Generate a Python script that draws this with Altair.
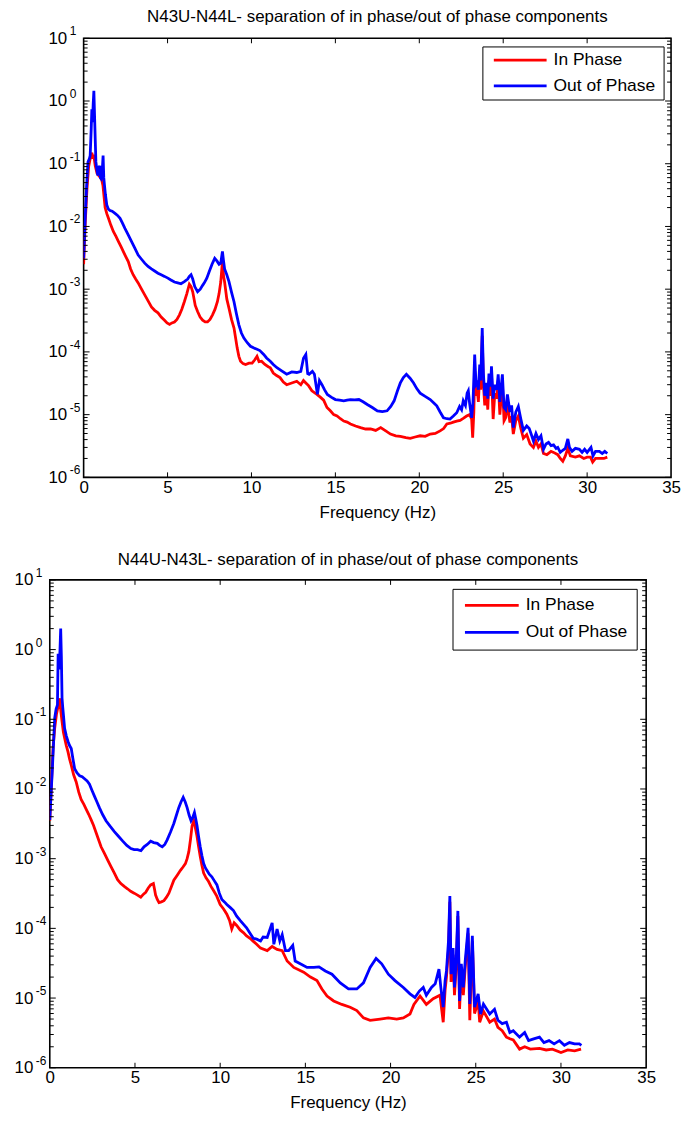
import altair as alt
import pandas as pd

FONT = "Liberation Sans"

series_names = ["In Phase", "Out of Phase"]
series_colors = ["#ff0000", "#0000ff"]
panel_titles = [
    "N43U-N44L- separation of in phase/out of phase components",
    "N44U-N43L- separation of in phase/out of phase components",
]
x_label = "Frequency (Hz)"
x_tick_values = [0, 5, 10, 15, 20, 25, 30, 35]
y_decades = [-6, -5, -4, -3, -2, -1, 0, 1]

# ---------------- top panel (N43U-N44L) ----------------
top_out_freq = [0.00, 0.10, 0.18, 0.26, 0.34, 0.39, 0.45, 0.49, 0.53, 0.57, 0.61, 0.65, 0.69, 0.73, 0.79, 0.85, 0.90, 0.96, 1.00, 1.04, 1.10, 1.16, 1.20, 1.24, 1.30, 1.38, 1.47, 1.57, 1.70, 1.87, 2.02, 2.17, 2.30, 2.46, 2.65, 2.85, 3.05, 3.25, 3.45, 3.64, 3.84, 4.04, 4.23, 4.43, 4.62, 4.82, 5.02, 5.20, 5.41, 5.61, 5.80, 6.00, 6.20, 6.30, 6.40, 6.50, 6.62, 6.79, 6.95, 7.09, 7.19, 7.34, 7.48, 7.65, 7.81, 7.95, 8.07, 8.17, 8.27, 8.33, 8.40, 8.53, 8.66, 8.81, 8.96, 9.10, 9.25, 9.40, 9.55, 9.75, 9.94, 10.15, 10.33, 10.50, 10.73, 10.90, 11.12, 11.30, 11.52, 11.80, 12.10, 12.40, 12.70, 12.94, 13.10, 13.24, 13.35, 13.43, 13.63, 13.75, 13.93, 14.05, 14.20, 14.35, 14.52, 14.75, 15.00, 15.25, 15.50, 15.70, 15.90, 16.15, 16.40, 16.65, 16.90, 17.20, 17.50, 17.80, 18.08, 18.30, 18.50, 18.70, 18.87, 19.05, 19.23, 19.45, 19.66, 19.85, 20.05, 20.35, 20.65, 20.85, 21.04, 21.24, 21.44, 21.65, 21.83, 22.03, 22.23, 22.40, 22.52, 22.62, 22.75, 22.85, 22.92, 23.00, 23.12, 23.20, 23.30, 23.38, 23.45, 23.52, 23.60, 23.66, 23.75, 23.82, 23.90, 24.00, 24.08, 24.15, 24.25, 24.30, 24.40, 24.50, 24.62, 24.70, 24.80, 24.95, 25.05, 25.15, 25.25, 25.40, 25.50, 25.60, 25.75, 25.90, 26.05, 26.20, 26.40, 26.55, 26.70, 26.80, 26.95, 27.10, 27.25, 27.40, 27.55, 27.70, 27.85, 28.00, 28.15, 28.25, 28.40, 28.55, 28.70, 28.85, 28.95, 29.10, 29.30, 29.54, 29.70, 29.85, 30.00, 30.23, 30.35, 30.50, 30.73, 30.90, 31.05, 31.20]
top_out_val = [3.1e-3, 1.5e-2, 4.5e-2, 1.07e-1, 1.2e-1, 1.35e-1, 3.5e-1, 7.4e-1, 4.6e-1, 9.0e-1, 1.45, 6.0e-1, 2.5e-1, 1.07e-1, 8.0e-2, 6.5e-2, 8.5e-2, 9.3e-2, 6.0e-2, 5.8e-2, 7.0e-2, 1.35e-1, 6.0e-2, 4.6e-2, 3.2e-2, 2.2e-2, 1.9e-2, 1.8e-2, 1.75e-2, 1.62e-2, 1.5e-2, 1.35e-2, 1.15e-2, 9.3e-3, 7.4e-3, 5.8e-3, 4.5e-3, 3.5e-3, 3.0e-3, 2.6e-3, 2.3e-3, 2.1e-3, 1.95e-3, 1.8e-3, 1.7e-3, 1.6e-3, 1.5e-3, 1.4e-3, 1.3e-3, 1.26e-3, 1.22e-3, 1.32e-3, 1.45e-3, 1.6e-3, 1.7e-3, 1.45e-3, 1.1e-3, 9.1e-4, 1.0e-3, 1.15e-3, 1.26e-3, 1.5e-3, 1.9e-3, 2.5e-3, 3.1e-3, 2.8e-3, 2.5e-3, 2.6e-3, 4.0e-3, 2.9e-3, 2.1e-3, 1.7e-3, 1.32e-3, 9.0e-4, 6.3e-4, 4.1e-4, 2.7e-4, 2.0e-4, 1.66e-4, 1.4e-4, 1.23e-4, 1.15e-4, 1.1e-4, 1.05e-4, 9.1e-5, 8.0e-5, 7.1e-5, 6.3e-5, 5.6e-5, 5.0e-5, 4.4e-5, 4.8e-5, 4.7e-5, 4.9e-5, 7.9e-5, 9.1e-5, 4.5e-5, 4.4e-5, 4.9e-5, 4.4e-5, 2.1e-5, 3.5e-5, 3.0e-5, 2.5e-5, 2.1e-5, 1.9e-5, 1.74e-5, 1.7e-5, 1.66e-5, 1.7e-5, 1.74e-5, 1.72e-5, 1.74e-5, 1.6e-5, 1.45e-5, 1.3e-5, 1.15e-5, 1.12e-5, 1.15e-5, 1.35e-5, 1.66e-5, 2.4e-5, 3.2e-5, 3.9e-5, 4.4e-5, 3.8e-5, 3.2e-5, 2.6e-5, 2.2e-5, 1.95e-5, 1.74e-5, 1.55e-5, 1.38e-5, 1.1e-5, 8.9e-6, 8.6e-6, 8.5e-6, 9.5e-6, 1.07e-5, 1.35e-5, 1.2e-5, 1.66e-5, 1.4e-5, 2.2e-5, 2.4e-5, 1.5e-5, 8.9e-6, 1.6e-5, 9.1e-5, 3.0e-5, 3.2e-5, 2.5e-5, 6.3e-5, 3.5e-5, 2.4e-4, 4.5e-5, 2.0e-5, 3.2e-5, 1.8e-5, 4.5e-5, 2.8e-5, 5.9e-5, 1.8e-5, 3.0e-5, 2.5e-5, 4.4e-5, 1.6e-5, 4.4e-5, 1.3e-5, 1.2e-5, 2.1e-5, 1.1e-5, 1.4e-5, 6.2e-6, 1.1e-5, 1.35e-5, 8.5e-6, 5.6e-6, 6.6e-6, 6.0e-6, 4.6e-6, 3.8e-6, 5.0e-6, 4.0e-6, 4.6e-6, 2.8e-6, 3.4e-6, 3.6e-6, 3.2e-6, 3.3e-6, 2.9e-6, 3.0e-6, 2.5e-6, 2.7e-6, 2.9e-6, 4.1e-6, 3.0e-6, 2.6e-6, 2.9e-6, 2.8e-6, 2.5e-6, 2.8e-6, 2.5e-6, 3.0e-6, 2.2e-6, 2.6e-6, 2.6e-6, 2.4e-6, 2.6e-6, 2.4e-6]

top_in_freq = [0.00, 0.10, 0.20, 0.30, 0.39, 0.49, 0.55, 0.60, 0.69, 0.80, 0.89, 1.00, 1.08, 1.15, 1.28, 1.38, 1.48, 1.62, 1.77, 1.92, 2.07, 2.22, 2.36, 2.51, 2.66, 2.80, 2.95, 3.10, 3.25, 3.45, 3.64, 3.84, 4.04, 4.23, 4.43, 4.62, 4.82, 4.97, 5.12, 5.26, 5.41, 5.56, 5.71, 5.85, 6.00, 6.15, 6.30, 6.40, 6.50, 6.65, 6.79, 6.94, 7.09, 7.24, 7.38, 7.53, 7.68, 7.83, 7.97, 8.07, 8.17, 8.27, 8.34, 8.40, 8.53, 8.66, 8.81, 8.96, 9.05, 9.15, 9.25, 9.35, 9.50, 9.65, 9.85, 10.04, 10.20, 10.33, 10.45, 10.60, 10.80, 11.00, 11.12, 11.30, 11.50, 11.70, 11.90, 12.10, 12.40, 12.70, 12.94, 13.10, 13.24, 13.40, 13.60, 13.90, 14.10, 14.30, 14.50, 14.70, 14.90, 15.10, 15.30, 15.50, 15.70, 15.90, 16.20, 16.50, 16.80, 17.10, 17.40, 17.70, 18.00, 18.28, 18.60, 18.87, 19.20, 19.46, 19.75, 20.05, 20.35, 20.65, 20.95, 21.24, 21.45, 21.64, 21.85, 22.03, 22.23, 22.43, 22.62, 22.82, 23.00, 23.12, 23.18, 23.25, 23.30, 23.38, 23.45, 23.52, 23.60, 23.66, 23.75, 23.82, 23.90, 24.00, 24.08, 24.15, 24.25, 24.30, 24.40, 24.50, 24.62, 24.70, 24.80, 24.95, 25.05, 25.15, 25.25, 25.40, 25.50, 25.60, 25.75, 25.90, 26.05, 26.20, 26.40, 26.60, 26.80, 26.95, 27.10, 27.25, 27.40, 27.60, 27.85, 28.00, 28.25, 28.40, 28.55, 28.70, 28.85, 29.00, 29.30, 29.54, 29.80, 30.00, 30.20, 30.33, 30.50, 30.73, 31.00, 31.20]
top_in_val = [2.5e-3, 1.2e-2, 4.0e-2, 9.0e-2, 1.2e-1, 1.5e-1, 1.2e-1, 1.4e-1, 9.3e-2, 7.0e-2, 6.5e-2, 6.0e-2, 5.5e-2, 4.5e-2, 2.0e-2, 1.6e-2, 1.35e-2, 1.05e-2, 8.3e-3, 7.0e-3, 5.8e-3, 4.8e-3, 4.0e-3, 3.3e-3, 2.75e-3, 2.1e-3, 1.7e-3, 1.45e-3, 1.26e-3, 1.0e-3, 8.1e-4, 6.5e-4, 5.2e-4, 4.6e-4, 4.2e-4, 3.6e-4, 3.2e-4, 2.9e-4, 2.75e-4, 2.9e-4, 3.0e-4, 3.3e-4, 3.9e-4, 4.8e-4, 6.3e-4, 8.5e-4, 1.2e-3, 1.1e-3, 9.1e-4, 5.5e-4, 4.4e-4, 3.6e-4, 3.2e-4, 3.0e-4, 3.0e-4, 3.3e-4, 3.9e-4, 4.8e-4, 6.3e-4, 8.5e-4, 1.3e-3, 2.75e-3, 1.6e-3, 1.3e-3, 7.0e-4, 5.0e-4, 3.3e-4, 2.4e-4, 1.7e-4, 1.15e-4, 8.5e-5, 7.1e-5, 6.5e-5, 6.3e-5, 6.6e-5, 6.6e-5, 7.5e-5, 8.5e-5, 7.0e-5, 7.1e-5, 6.3e-5, 5.8e-5, 5.6e-5, 4.6e-5, 4.2e-5, 3.9e-5, 3.3e-5, 3.0e-5, 3.2e-5, 3.4e-5, 3.0e-5, 3.5e-5, 3.2e-5, 2.9e-5, 2.4e-5, 2.1e-5, 1.9e-5, 1.7e-5, 1.3e-5, 1.15e-5, 1.0e-5, 9.5e-6, 8.6e-6, 7.9e-6, 7.6e-6, 7.1e-6, 6.6e-6, 6.2e-6, 5.9e-6, 5.9e-6, 5.6e-6, 6.2e-6, 5.5e-6, 4.9e-6, 4.6e-6, 4.5e-6, 4.3e-6, 4.2e-6, 4.4e-6, 4.6e-6, 4.5e-6, 4.9e-6, 5.0e-6, 5.5e-6, 6.0e-6, 7.1e-6, 7.3e-6, 7.6e-6, 7.9e-6, 8.1e-6, 8.7e-6, 9.5e-6, 1.0e-5, 8.5e-6, 4.3e-6, 1.1e-5, 5.0e-5, 2.0e-5, 2.5e-5, 1.6e-5, 4.5e-5, 2.5e-5, 1.8e-4, 3.0e-5, 1.4e-5, 2.5e-5, 1.2e-5, 3.5e-5, 2.0e-5, 4.5e-5, 8.5e-6, 2.2e-5, 1.8e-5, 3.5e-5, 1.0e-5, 3.2e-5, 8.0e-6, 9.0e-6, 1.5e-5, 7.5e-6, 9.5e-6, 4.9e-6, 8.0e-6, 9.5e-6, 6.0e-6, 4.2e-6, 4.8e-6, 3.4e-6, 3.0e-6, 3.8e-6, 3.0e-6, 3.4e-6, 2.4e-6, 2.3e-6, 2.6e-6, 2.5e-6, 2.3e-6, 2.0e-6, 1.8e-6, 2.2e-6, 2.9e-6, 2.2e-6, 2.1e-6, 2.2e-6, 2.0e-6, 2.1e-6, 2.1e-6, 1.75e-6, 2.0e-6, 2.0e-6, 2.0e-6, 2.1e-6]

# ---------------- bottom panel (N44U-N43L) ----------------
bot_out_freq = [0.00, 0.07, 0.14, 0.22, 0.29, 0.37, 0.45, 0.49, 0.55, 0.60, 0.64, 0.68, 0.72, 0.76, 0.80, 0.87, 0.97, 1.07, 1.16, 1.26, 1.36, 1.46, 1.60, 1.75, 1.90, 2.04, 2.19, 2.33, 2.48, 2.62, 2.77, 2.91, 3.10, 3.30, 3.55, 3.79, 4.03, 4.27, 4.52, 4.76, 4.95, 5.15, 5.35, 5.53, 5.72, 5.92, 6.10, 6.31, 6.45, 6.60, 6.75, 6.89, 7.08, 7.28, 7.43, 7.57, 7.70, 7.83, 7.95, 8.06, 8.18, 8.29, 8.39, 8.49, 8.56, 8.64, 8.73, 8.83, 8.93, 9.03, 9.12, 9.22, 9.36, 9.51, 9.66, 9.81, 9.95, 10.10, 10.25, 10.39, 10.58, 10.78, 10.97, 11.17, 11.36, 11.55, 11.75, 11.94, 12.14, 12.37, 12.52, 12.76, 13.05, 13.15, 13.34, 13.50, 13.64, 13.83, 14.02, 14.26, 14.40, 14.70, 15.10, 15.50, 15.80, 16.17, 16.56, 17.05, 17.53, 18.02, 18.41, 18.80, 19.15, 19.48, 19.87, 20.26, 20.75, 21.14, 21.43, 21.69, 21.92, 22.10, 22.40, 22.62, 22.84, 22.95, 23.09, 23.20, 23.28, 23.40, 23.48, 23.55, 23.67, 23.75, 23.85, 23.95, 24.05, 24.15, 24.27, 24.38, 24.55, 24.65, 24.80, 24.93, 25.14, 25.28, 25.45, 25.82, 26.10, 26.30, 26.55, 26.80, 27.00, 27.20, 27.57, 27.87, 28.10, 28.40, 28.74, 29.00, 29.30, 29.60, 29.91, 30.20, 30.50, 30.80, 31.08, 31.20]
bot_out_val = [3.6e-3, 8.0e-3, 1.7e-2, 4.5e-2, 1.05e-1, 1.4e-1, 1.6e-1, 8.7e-1, 5.2e-1, 1.0, 2.0, 8.0e-1, 2.0e-1, 1.5e-1, 1.17e-1, 7.4e-2, 5.8e-2, 4.8e-2, 4.2e-2, 3.8e-2, 2.7e-2, 1.95e-2, 1.7e-2, 1.55e-2, 1.5e-2, 1.4e-2, 1.3e-2, 1.17e-2, 9.5e-3, 7.9e-3, 6.5e-3, 5.4e-3, 4.3e-3, 3.5e-3, 2.9e-3, 2.45e-3, 2.1e-3, 1.8e-3, 1.55e-3, 1.4e-3, 1.35e-3, 1.35e-3, 1.3e-3, 1.48e-3, 1.6e-3, 1.78e-3, 1.7e-3, 1.66e-3, 1.55e-3, 1.48e-3, 1.6e-3, 1.86e-3, 2.4e-3, 3.2e-3, 4.2e-3, 5.4e-3, 6.5e-3, 7.6e-3, 6.5e-3, 5.4e-3, 4.2e-3, 3.5e-3, 3.9e-3, 4.6e-3, 3.8e-3, 3.0e-3, 2.1e-3, 1.48e-3, 1.1e-3, 8.5e-4, 7.5e-4, 6.8e-4, 6.0e-4, 5.5e-4, 4.8e-4, 4.2e-4, 3.2e-4, 2.6e-4, 2.4e-4, 2.2e-4, 2.0e-4, 1.8e-4, 1.5e-4, 1.3e-4, 1.15e-4, 1.02e-4, 8.5e-5, 7.2e-5, 7.0e-5, 6.6e-5, 7.5e-5, 7.4e-5, 1.2e-4, 5.9e-5, 9.8e-5, 6.6e-5, 8.1e-5, 4.8e-5, 4.8e-5, 5.7e-5, 3.4e-5, 3.1e-5, 2.75e-5, 2.75e-5, 2.8e-5, 2.45e-5, 2.2e-5, 1.65e-5, 1.35e-5, 1.35e-5, 1.65e-5, 2.75e-5, 3.7e-5, 3.1e-5, 2.2e-5, 1.78e-5, 1.42e-5, 1.15e-5, 1.02e-5, 1.26e-5, 1.42e-5, 1.1e-5, 1.42e-5, 1.6e-5, 2.6e-5, 1.42e-5, 7.4e-6, 1.78e-5, 2.45e-5, 6.6e-5, 2.9e-4, 2.2e-5, 5.2e-5, 1.42e-5, 3.4e-5, 1.78e-4, 9.1e-6, 3.1e-5, 1.42e-5, 3.4e-5, 1.02e-4, 8.2e-6, 7.8e-5, 7.4e-6, 1.15e-5, 5.9e-6, 8.2e-6, 5.9e-6, 6.9e-6, 4.8e-6, 4.3e-6, 4.5e-6, 3.2e-6, 3.4e-6, 2.75e-6, 3.2e-6, 2.45e-6, 2.6e-6, 2.75e-6, 2.3e-6, 2.45e-6, 2.2e-6, 2.45e-6, 2.1e-6, 2.3e-6, 2.2e-6, 2.2e-6, 2.1e-6]

bot_in_freq = [0.00, 0.10, 0.19, 0.29, 0.39, 0.48, 0.58, 0.65, 0.72, 0.80, 0.87, 0.97, 1.07, 1.16, 1.26, 1.40, 1.55, 1.70, 1.84, 2.00, 2.14, 2.29, 2.43, 2.57, 2.72, 2.87, 3.01, 3.20, 3.40, 3.60, 3.79, 3.98, 4.17, 4.37, 4.56, 4.75, 4.95, 5.15, 5.34, 5.50, 5.63, 5.78, 5.92, 6.00, 6.08, 6.15, 6.21, 6.31, 6.41, 6.55, 6.70, 6.85, 6.99, 7.14, 7.28, 7.48, 7.67, 7.82, 7.96, 8.06, 8.16, 8.26, 8.35, 8.45, 8.54, 8.64, 8.73, 8.83, 8.93, 9.03, 9.17, 9.32, 9.46, 9.61, 9.80, 10.00, 10.20, 10.39, 10.55, 10.68, 10.82, 10.97, 11.17, 11.36, 11.55, 11.75, 11.95, 12.14, 12.37, 12.76, 13.05, 13.34, 13.64, 13.93, 14.32, 14.90, 15.30, 15.68, 15.97, 16.27, 16.66, 17.14, 17.63, 18.02, 18.41, 18.80, 19.39, 19.87, 20.36, 20.75, 21.14, 21.37, 21.73, 22.10, 22.50, 22.90, 23.09, 23.20, 23.28, 23.40, 23.48, 23.55, 23.67, 23.75, 23.85, 23.95, 24.05, 24.15, 24.27, 24.38, 24.55, 24.65, 24.80, 24.93, 25.14, 25.23, 25.45, 25.82, 26.10, 26.30, 26.55, 26.80, 27.00, 27.20, 27.57, 27.87, 28.20, 28.74, 29.13, 29.50, 30.00, 30.40, 30.80, 31.18]
bot_in_val = [3.5e-3, 1.2e-2, 3.8e-2, 7.5e-2, 1.17e-1, 1.5e-1, 2.0e-1, 1.3e-1, 9.3e-2, 6.5e-2, 5.4e-2, 4.2e-2, 3.4e-2, 2.7e-2, 2.2e-2, 1.6e-2, 1.26e-2, 9.0e-3, 7.1e-3, 6.0e-3, 5.1e-3, 4.3e-3, 3.6e-3, 3.0e-3, 2.35e-3, 1.85e-3, 1.48e-3, 1.2e-3, 9.5e-4, 7.6e-4, 6.2e-4, 5.0e-4, 4.4e-4, 4.0e-4, 3.7e-4, 3.4e-4, 3.2e-4, 3.0e-4, 2.8e-4, 3.1e-4, 3.3e-4, 3.8e-4, 4.2e-4, 4.3e-4, 4.4e-4, 3.6e-4, 3.0e-4, 2.6e-4, 2.35e-4, 2.4e-4, 2.5e-4, 2.8e-4, 3.2e-4, 4.0e-4, 4.9e-4, 5.8e-4, 6.8e-4, 7.6e-4, 8.5e-4, 1.0e-3, 1.26e-3, 1.9e-3, 2.95e-3, 3.5e-3, 2.8e-3, 2.1e-3, 1.5e-3, 1.07e-3, 8.0e-4, 6.2e-4, 5.3e-4, 4.7e-4, 4.0e-4, 3.5e-4, 2.9e-4, 2.2e-4, 1.9e-4, 1.6e-4, 1.3e-4, 9.8e-5, 1.2e-4, 1.1e-4, 9.5e-5, 8.7e-5, 7.8e-5, 7.2e-5, 6.5e-5, 5.9e-5, 5.2e-5, 4.8e-5, 5.5e-5, 5.0e-5, 4.8e-5, 3.4e-5, 2.75e-5, 2.35e-5, 2.0e-5, 1.78e-5, 1.35e-5, 1.07e-5, 9.1e-6, 8.1e-6, 7.4e-6, 6.6e-6, 5.2e-6, 4.8e-6, 5.0e-6, 5.2e-6, 5.0e-6, 5.2e-6, 5.9e-6, 8.1e-6, 1.07e-5, 8.1e-6, 9.8e-6, 1.1e-5, 4.5e-6, 1.3e-5, 2.0e-5, 5.0e-5, 2.4e-4, 1.7e-5, 4.2e-5, 1.1e-5, 2.7e-5, 1.5e-4, 7.0e-6, 2.5e-5, 1.1e-5, 2.7e-5, 8.5e-5, 4.8e-6, 6.5e-5, 6.0e-6, 9.0e-6, 4.5e-6, 6.5e-6, 4.5e-6, 5.0e-6, 3.8e-6, 3.4e-6, 2.75e-6, 2.6e-6, 2.5e-6, 1.85e-6, 2.0e-6, 1.85e-6, 1.9e-6, 1.8e-6, 1.85e-6, 1.65e-6, 1.8e-6, 1.75e-6, 1.85e-6]


def panel(title, in_f, in_v, out_f, out_v, W, H, left_extent, title_offset, lg):
    sx = alt.Scale(domain=[0, 35], nice=False, zero=False)
    sy = alt.Scale(type="log", domain=[1e-6, 10], nice=False)
    xaxis = alt.Axis(values=x_tick_values, title=x_label, grid=False, ticks=False,
                     domain=False, labelFlush=False, labelFont=FONT, labelFontSize=17,
                     labelColor="black", labelPadding=2, labelAngle=0,
                     titleFont=FONT, titleFontSize=17, titleFontWeight="normal",
                     titleColor="black", titlePadding=9)
    yaxis = alt.Axis(values=[10.0 ** k for k in y_decades], labelExpr="'10'", title=None,
                     grid=False, ticks=False, domain=False, labelFont=FONT,
                     labelFontSize=17, labelColor="black", labelPadding=17,
                     labelBaseline="middle", labelOverlap=False,
                     minExtent=left_extent, maxExtent=left_extent)

    def X():
        return alt.X("f:Q", scale=sx, axis=xaxis)

    def Y():
        return alt.Y("v:Q", scale=sy, axis=yaxis)

    in_df = pd.DataFrame({"f": in_f, "v": in_v})
    out_df = pd.DataFrame({"f": out_f, "v": out_v})

    red = alt.Chart(in_df).mark_line(color=series_colors[0], strokeWidth=2.8, clip=True).encode(
        x=X(), y=Y())
    blue = alt.Chart(out_df).mark_line(color=series_colors[1], strokeWidth=2.8, clip=True).encode(
        x=X(), y=Y())

    major_df = pd.DataFrame({"v": [10.0 ** k for k in y_decades]})
    minor_df = pd.DataFrame({"v": [m * 10.0 ** k for k in range(-6, 1) for m in range(2, 10)]})
    xt_df = pd.DataFrame({"f": x_tick_values[1:-1]})
    exp_df = pd.DataFrame({"v": [10.0 ** k for k in y_decades], "e": [str(k) for k in y_decades]})

    tick_layers = [
        alt.Chart(major_df).mark_rule(color="black", strokeWidth=1).encode(y=Y(), x=alt.value(0), x2=alt.value(6)),
        alt.Chart(major_df).mark_rule(color="black", strokeWidth=1).encode(y=Y(), x=alt.value(W - 6), x2=alt.value(W)),
        alt.Chart(minor_df).mark_rule(color="black", strokeWidth=1).encode(y=Y(), x=alt.value(0), x2=alt.value(4)),
        alt.Chart(minor_df).mark_rule(color="black", strokeWidth=1).encode(y=Y(), x=alt.value(W - 4), x2=alt.value(W)),
        alt.Chart(xt_df).mark_rule(color="black", strokeWidth=1).encode(x=X(), y=alt.value(H), y2=alt.value(H - 5)),
        alt.Chart(xt_df).mark_rule(color="black", strokeWidth=1).encode(x=X(), y=alt.value(0), y2=alt.value(5)),
    ]
    exps = alt.Chart(exp_df).mark_text(align="left", baseline="middle", dy=-7, fontSize=12,
                                       font=FONT, color="black").encode(
        y=Y(), x=alt.value(-14), text="e:N")

    one = pd.DataFrame({"k": [0]})
    box = alt.Chart(one).mark_rect(fill="white", stroke="black", strokeWidth=1).encode(
        x=alt.value(lg["x0"]), x2=alt.value(lg["x1"]), y=alt.value(lg["y0"]), y2=alt.value(lg["y1"]))
    leg = [box]
    for i, name in enumerate(series_names):
        yy = lg["rows"][i]
        leg.append(alt.Chart(one).mark_rule(color=series_colors[i], strokeWidth=2.8).encode(
            x=alt.value(lg["lx0"]), x2=alt.value(lg["lx1"]), y=alt.value(yy)))
        leg.append(alt.Chart(one).mark_text(align="left", baseline="middle", fontSize=17.5,
                                            font=FONT, color="black").encode(
            x=alt.value(lg["tx"]), y=alt.value(yy), text=alt.value(name)))

    return alt.layer(red, blue, *tick_layers, exps, *leg).properties(
        width=W, height=H,
        title=alt.TitleParams(text=title, font=FONT, fontSize=17, fontWeight="normal",
                              color="black", anchor="middle", frame="group",
                              offset=title_offset, baseline="bottom"))


top = panel(panel_titles[0], top_in_freq, top_in_val, top_out_freq, top_out_val,
            590, 441, 81.7, -18,
            {"x0": 401, "x1": 583, "y0": 8.7, "y1": 62, "lx0": 412, "lx1": 465,
             "tx": 472, "rows": [22, 47.7]})
bottom = panel(panel_titles[1], bot_in_freq, bot_in_val, bot_out_freq, bot_out_val,
               599, 490, 48.3, -19,
               {"x0": 405, "x1": 590, "y0": 9.5, "y1": 70.5, "lx0": 417, "lx1": 471,
                "tx": 478, "rows": [25.5, 52.8]})

# empty spacer that shifts the upper panel to the right of the lower one
spacer = alt.Chart(pd.DataFrame({"k": [0]})).mark_point(opacity=0).encode(
    x=alt.value(0), y=alt.value(0)
).properties(width=33.4, height=10, view=alt.ViewBackground(stroke="transparent"))

top_row = alt.hconcat(spacer, top, spacing=0, bounds="flush")

chart = alt.vconcat(top_row, bottom, spacing=29).properties(
    padding={"left": 0, "top": 5, "right": 0, "bottom": 0},
    background="white",
).configure_view(stroke="black", strokeWidth=1.6)

chart.save("out.html", embed_options={"renderer": "svg", "actions": False})
